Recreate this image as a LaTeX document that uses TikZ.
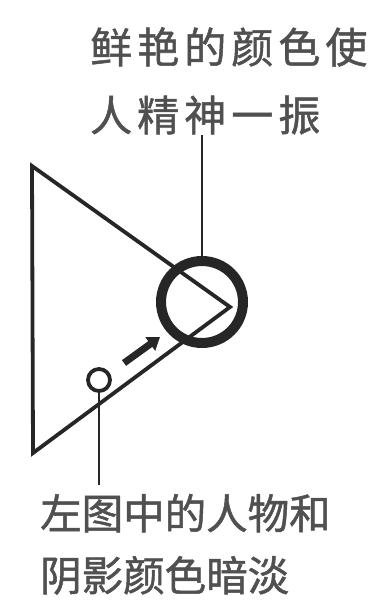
\documentclass[tikz,border=0pt]{standalone}
\usepackage{fontspec}
\newfontfamily\cjk[FakeBold=1.2]{Noto Sans CJK SC}
\newfontfamily\cjkwide[LetterSpace=12, FakeBold=1.2]{Noto Sans CJK SC}
\usepackage{xcolor}
\usepackage{tikz}
\usetikzlibrary{arrows.meta, positioning}
\definecolor{ink}{HTML}{262626}
\definecolor{caption}{HTML}{505050}

\begin{document}
\begin{tikzpicture}[x=1pt, y=-1pt,
    lead/.style={draw=ink, line width=1.8pt},
    note/.style={text=caption, inner sep=0pt, anchor=base west},
    topnote/.style={note, font=\cjkwide\fontsize{42}{50}\selectfont},
    lownote/.style={note, font=\cjk\fontsize{41.5}{50}\selectfont},
    spot/.style={circle, draw=ink, inner sep=0pt},
    push/.style={-{Triangle[length=12pt, width=16pt]}, line width=7pt, ink}
  ]
    \useasboundingbox (0,0) rectangle (382,602);

    % labels
    \node[topnote] (vivid1) at (90,63) {鲜艳的颜色使};
    \node[topnote] (vivid2) at (90,131) {人精神一振};
    \node[lownote] (dull1) at (40,529) {左图中的人物和};
    \node[lownote] (dull2) at (40,591) {阴影颜色暗淡};

    % picture frame seen from the side
    \draw[ink, line width=3.8pt, line join=miter]
      (32,166) -- (230,307) -- (33,453) -- cycle;

    \node[spot, line width=10pt, minimum size=82pt] (bright) at (202,302) {};
    \node[spot, line width=3.8pt, minimum size=22pt] (figure) at (99,380) {};

    \coordinate (tail) at (124,363);
    \coordinate (tip) at (160,337);
    \draw[push] (tail) -- (tip);

    \draw[lead] (bright.north) -- (bright.north |- vivid2.south);
    \draw[lead] (figure.south) -- ([yshift=9pt]figure.south |- dull1.north);
  \end{tikzpicture}
\end{document}
